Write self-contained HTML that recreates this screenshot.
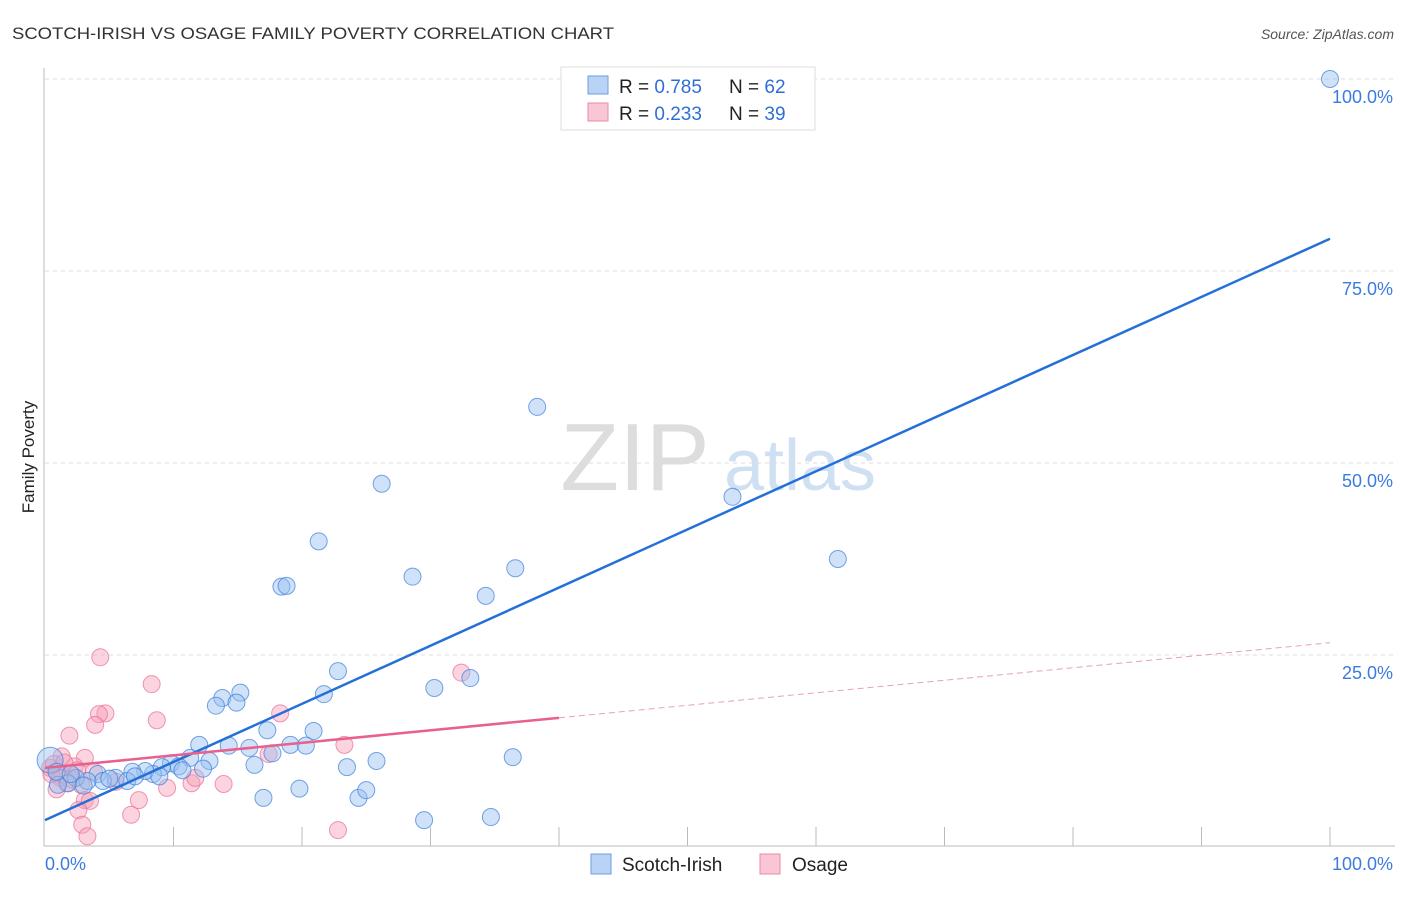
<!DOCTYPE html>
<html><head><meta charset="utf-8"><style>
body{margin:0;background:#fff;font-family:"Liberation Sans",sans-serif;}
svg text{font-family:"Liberation Sans",sans-serif;}
</style></head><body>
<svg id="c" width="1406" height="892" xmlns="http://www.w3.org/2000/svg">
<text x="12" y="39" font-size="17" fill="#333" textLength="602" lengthAdjust="spacingAndGlyphs">SCOTCH-IRISH VS OSAGE FAMILY POVERTY CORRELATION CHART</text>
<text x="1394" y="39" font-size="14" fill="#555" font-style="italic" text-anchor="end">Source: ZipAtlas.com</text>
<text x="34" y="457" font-size="17" fill="#222" transform="rotate(-90 34 457)" text-anchor="middle">Family Poverty</text>
<g><text x="635" y="490" font-size="96" fill="#ddd" font-family="Liberation Serif" text-anchor="middle">ZIP</text><text x="800" y="490" font-size="72" fill="#cfe0f3" text-anchor="middle">atlas</text></g>
<g id="grid"></g><g id="axes"></g><g id="pts"></g><g id="lines"></g>
<g>
<rect x="561" y="67" width="254" height="63" fill="#fff" stroke="#ddd"/>
<rect x="588" y="76" width="20" height="18" fill="#b8d3f5" stroke="#6c9fe0"/>
<text x="619" y="93" font-size="19" fill="#222">R = <tspan fill="#2d6fd6">0.785</tspan></text>
<text x="729" y="93" font-size="19" fill="#222">N = <tspan fill="#2d6fd6">62</tspan></text>
<rect x="588" y="103" width="20" height="18" fill="#f9c6d5" stroke="#e88aa7"/>
<text x="619" y="120" font-size="19" fill="#222">R = <tspan fill="#2d6fd6">0.233</tspan></text>
<text x="729" y="120" font-size="19" fill="#222">N = <tspan fill="#2d6fd6">39</tspan></text>
</g>
<g>
<rect x="591" y="854" width="20" height="20" fill="#b8d3f5" stroke="#6c9fe0"/>
<text x="622" y="871" font-size="19" fill="#222">Scotch-Irish</text>
<rect x="760" y="854" width="20" height="20" fill="#f9c6d5" stroke="#e88aa7"/>
<text x="792" y="871" font-size="19" fill="#222">Osage</text>
</g>
</svg>
<script>
const blueX=[100,38.3,26.2,53.5,61.7,21.3,28.6,36.6,18.4,18.8,34.3,22.8,30.3,33.1,15.2,13.8,13.3,14.9,21.7,17.3,20.9,12.0,14.3,15.9,19.1,20.3,17.7,16.3,23.5,25.8,36.4,12.8,11.3,9.8,10.4,12.3,9.1,8.4,7.8,6.8,5.5,4.1,4.5,6.4,3.3,2.4,1.8,1.0,0.4,0.9,17.0,19.8,24.4,25.0,29.5,34.7,10.7,8.9,3.0,2.0,5.0,7.0];
const blueY=[100,57.3,47.3,45.6,37.5,39.8,35.2,36.3,33.9,34.0,32.7,22.9,20.7,22.0,20.1,19.4,18.4,18.8,19.9,15.2,15.1,13.3,13.2,12.9,13.3,13.2,12.2,10.7,10.4,11.2,11.7,11.2,11.6,10.9,10.5,10.2,10.4,9.5,9.9,9.8,9.0,9.5,8.6,8.6,8.6,9.0,8.3,8.1,11.3,9.8,6.4,7.6,6.4,7.4,3.5,3.9,10.0,9.2,8.0,9.5,8.9,9.2];
const pinkX=[4.3,8.3,8.7,4.7,4.2,3.9,1.9,18.3,32.4,23.3,3.1,1.3,2.3,0.4,1.0,1.7,2.1,2.8,3.1,3.5,2.6,2.9,3.3,6.7,7.3,9.5,11.4,11.7,13.9,17.4,22.8,0.7,1.2,0.5,2.5,1.5,0.9,3.8,5.5];
const pinkY=[24.7,21.2,16.5,17.4,17.3,15.9,14.5,17.4,22.7,13.3,11.6,11.8,10.5,10.3,9.4,8.3,8.8,8.1,6.1,6.0,4.8,2.9,1.4,4.2,6.1,7.7,8.3,9.0,8.2,12.1,2.2,10.8,9.0,9.5,10.0,11.0,7.5,9.8,8.5];
const blueFit=[3.5,79.2];
const pinkFit=[10.3,26.6];
const pinkSolidEnd=40;
const xTicks=[0,10,20,30,40,50,60,70,80,90,100];
const yTicks=[25,50,75,100];
const X0=45,X1=1330,Y0=847,Y100=79;
const sx=v=>X0+(X1-X0)*v/100, sy=v=>Y0-(Y0-Y100)*v/100;
const NS="http://www.w3.org/2000/svg";
function mk(tag,attrs,parent){const e=document.createElementNS(NS,tag);for(const k in attrs)e.setAttribute(k,attrs[k]);document.getElementById(parent).appendChild(e);return e;}
yTicks.forEach(t=>{
 const g=mk('line',{x1:X0,x2:1395,y1:sy(t),y2:sy(t),stroke:'#ddd','stroke-dasharray':'4 4'},'grid');
 
 
 const l=mk('text',{x:1393,y:sy(t)+24,'font-size':18,fill:'#3b7be0','text-anchor':'end'},'grid');
 l.textContent=t.toFixed(1)+'%';
 
 
});
const ax=mk('line',{x1:44,x2:44,y1:68,y2:846,stroke:'#bbb'},'axes');


const bx=mk('line',{x1:44,x2:1395,y1:846,y2:846,stroke:'#bbb'},'axes');


xTicks.slice(1).forEach(t=>{
 const k=mk('line',{x1:sx(t),x2:sx(t),y1:827,y2:846,stroke:'#bbb'},'axes');
 
 
});
[[0,'start',45],[100,'end',1393]].forEach(([t,a,x])=>{
 const l=mk('text',{x:x,y:870,'font-size':18,fill:'#3b7be0','text-anchor':a},'axes');
 l.textContent=t.toFixed(1)+'%';
 
 
});
pinkX.forEach((v,i)=>{
 const c=mk('circle',{cx:sx(v),cy:sy(pinkY[i]),r:8.5,fill:'rgba(246,160,185,0.45)',stroke:'rgba(232,110,150,0.7)'},'pts');
 
 
});
blueX.forEach((v,i)=>{
 const c=mk('circle',{cx:sx(v),cy:sy(blueY[i]),r:i==48?13:8.5,fill:'rgba(150,190,240,0.45)',stroke:'rgba(60,125,220,0.7)'},'pts');
 
 
});
const pf=x=>pinkFit[0]+(pinkFit[1]-pinkFit[0])*x/100;
const l1=mk('line',{x1:sx(0),y1:sy(blueFit[0]),x2:sx(100),y2:sy(blueFit[1]),stroke:'#2470d8','stroke-width':2.5},'lines');


const l2=mk('line',{x1:sx(0),y1:sy(pf(0)),x2:sx(pinkSolidEnd),y2:sy(pf(pinkSolidEnd)),stroke:'#e8608c','stroke-width':2.5},'lines');


const l3=mk('line',{x1:sx(pinkSolidEnd),y1:sy(pf(pinkSolidEnd)),x2:sx(100),y2:sy(pf(100)),stroke:'#e8a0b8','stroke-width':1,'stroke-dasharray':'6 4'},'lines');


</script>
</body></html>
